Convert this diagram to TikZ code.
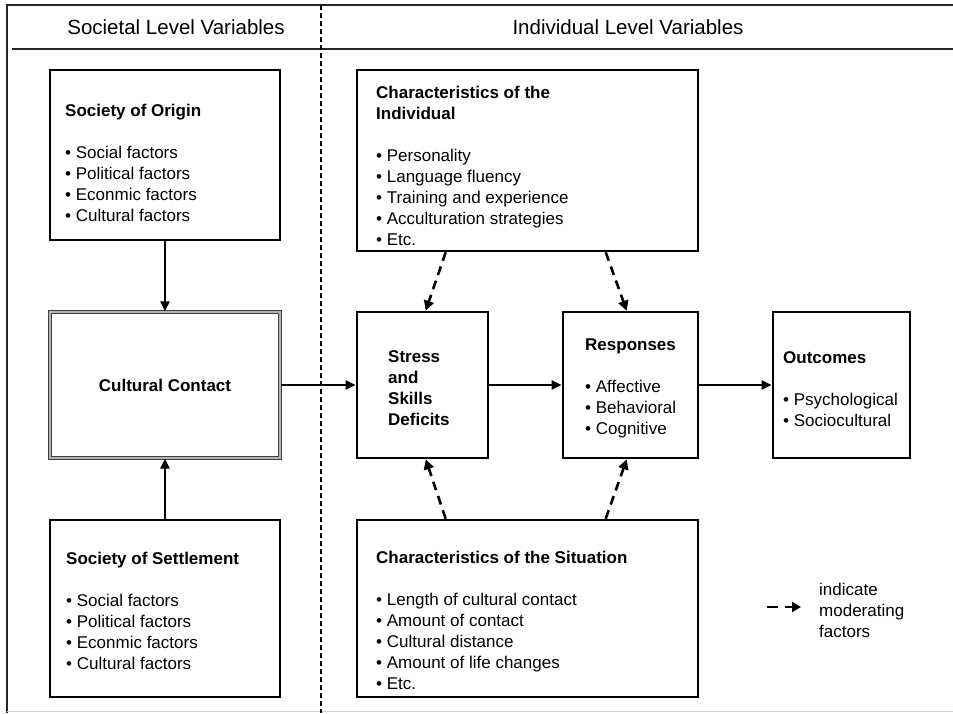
\documentclass[tikz,border=0pt]{standalone}
\usepackage{fontspec}
\setmainfont{Liberation Sans}
\usetikzlibrary{arrows.meta,calc}
\begin{document}
\begin{tikzpicture}[x=1pt,y=-1pt,
  box/.style={draw=black, line width=2.6pt, inner sep=0pt},
  contactbox/.style={draw=black!75, double=gray!60, double distance=1.6pt, line width=1.3pt, inner sep=0pt},
  txt/.style={inner sep=0pt, align=left, anchor=north west, font=\fontsize{17}{21}\selectfont},
  head/.style={inner sep=0pt, font=\fontsize{20.5}{24}\selectfont},
  flow/.style={line width=2.4pt, -{Triangle[length=10pt,width=9pt]}},
  modarrow/.style={line width=2.6pt, dash pattern=on 9pt off 6pt, -{Triangle[length=10pt,width=10pt]}},
  frame/.style={line width=2.4pt, draw=black!85}
]
\useasboundingbox (0,0) rectangle (953,713);
\fill[white] (0,0) rectangle (953,713);

% outer frame and header band
\draw[frame] (953,5) -- (7,5) -- (7,713);
\draw[frame, line width=2.8pt] (12,49) -- (953,49);
\draw[gray!35, line width=1.2pt] (7,711.5) -- (953,711.5);
\draw[line width=2.3pt, dash pattern=on 5pt off 3pt] (321,5) -- (321,713);

\node[head] (hsoc) at (176,27) {Societal Level Variables};
\node[head] (hind) at (628,27) {Individual Level Variables};

% societal level boxes
\node[box, minimum width=230pt, minimum height=170pt] (origin) at (165,155) {};
\node[contactbox, minimum width=230pt, minimum height=146pt, font=\fontsize{17}{21}\selectfont\bfseries] (contact) at (165,385) {Cultural Contact};
\node[box, minimum width=230pt, minimum height=177pt] (settle) at (165,608.5) {};

\node[txt] (origintxt) at (65,103.5) {\textbf{Society of Origin}\\[21pt]
  • Social factors\\ • Political factors\\ • Econmic factors\\ • Cultural factors};
\node[txt] (settletxt) at (66,551.5) {\textbf{Society of Settlement}\\[21pt]
  • Social factors\\ • Political factors\\ • Econmic factors\\ • Cultural factors};

% individual level boxes
\node[box, minimum width=341pt, minimum height=181pt] (indiv) at (527.5,160.5) {};
\node[box, minimum width=131pt, minimum height=146pt] (stress) at (422.5,385) {};
\node[box, minimum width=135pt, minimum height=146pt] (resp) at (630.5,385) {};
\node[box, minimum width=137pt, minimum height=146pt] (outc) at (841.5,385) {};
\node[box, minimum width=341pt, minimum height=177pt] (situ) at (527.5,608.5) {};

\node[txt] (indivtxt) at (376,85.5) {\textbf{Characteristics of the}\\ \textbf{Individual}\\[21pt]
  • Personality\\ • Language fluency\\ • Training and experience\\ • Acculturation strategies\\ • Etc.};
\node[txt] (stresstxt) at (388,350.5) {\textbf{Stress}\\ \textbf{and}\\ \textbf{Skills}\\ \textbf{Deficits}};
\node[txt] (resptxt) at (585,338.5) {\textbf{Responses}\\[21pt]
  • Affective\\ • Behavioral\\ • Cognitive};
\node[txt] (outctxt) at (783,351.5) {\textbf{Outcomes}\\[21pt]
  • Psychological\\ • Sociocultural};
\node[txt] (situtxt) at (376,550.5) {\textbf{Characteristics of the Situation}\\[21pt]
  • Length of cultural contact\\ • Amount of contact\\ • Cultural distance\\ • Amount of life changes\\ • Etc.};

% main causal flow
\draw[flow] (origin.south) -- (contact.north);
\draw[flow] (settle.north) -- (contact.south);
\draw[flow] (contact.east) -- (stress.west);
\draw[flow] (stress.east) -- (resp.west);
\draw[flow] (resp.east) -- (outc.west);

% moderating influences
\draw[modarrow] ($(indiv.south west)+(90,0)$) -- ($(stress.north west)+(70,0)$);
\draw[modarrow] ($(indiv.south west)+(250,0)$) -- ($(resp.north west)+(65,0)$);
\draw[modarrow] ($(situ.north west)+(90,0)$) -- ($(stress.south west)+(70,0)$);
\draw[modarrow] ($(situ.north west)+(250,0)$) -- ($(resp.south west)+(65,0)$);

% legend
\coordinate (legA) at (767,607);
\coordinate (legB) at (801,607);
\draw[modarrow, dash pattern=on 11pt off 7pt, -{Triangle[length=9pt,width=10pt]}] (legA) -- (legB);
\node[txt] (legtxt) at (819,582.5) {indicate\\ moderating\\ factors};
\end{tikzpicture}
\end{document}
